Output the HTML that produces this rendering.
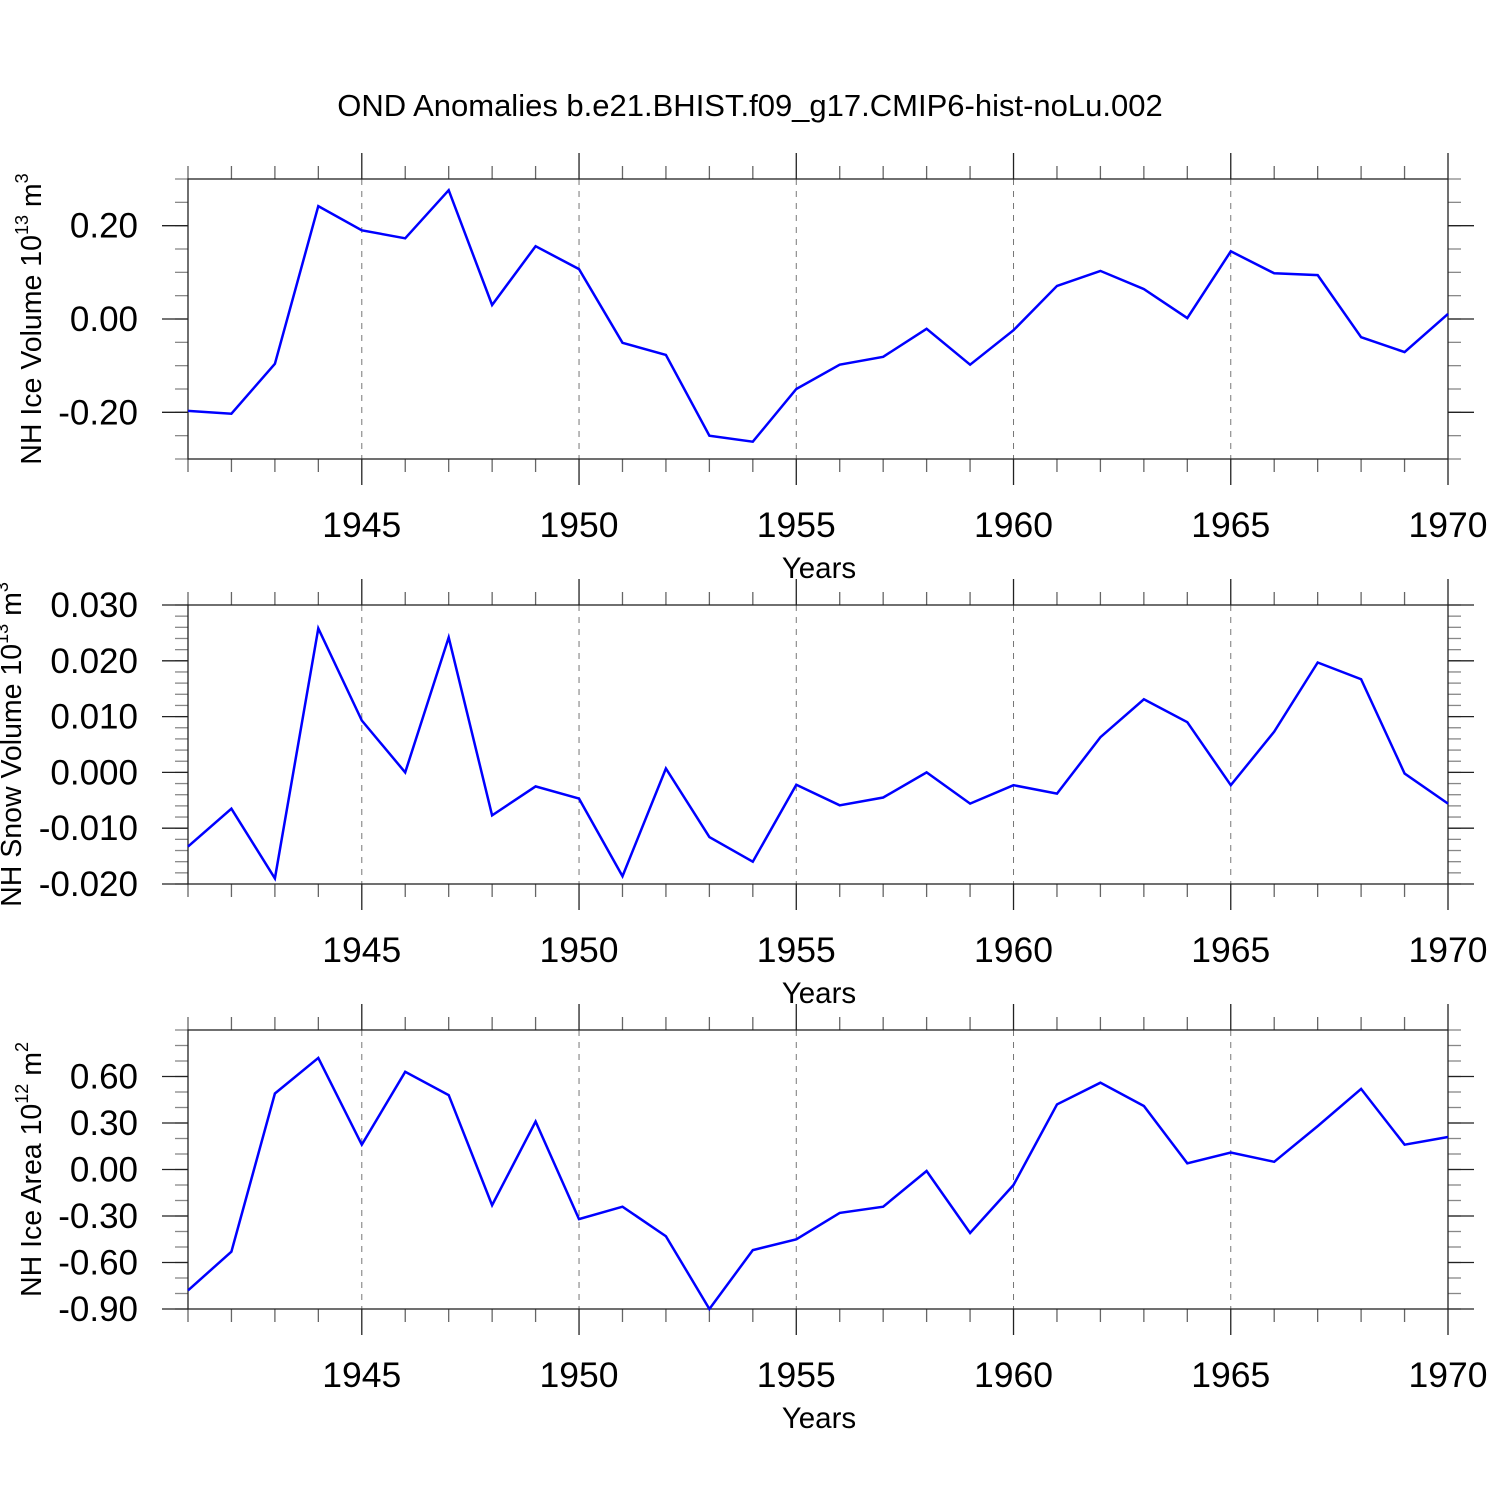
<!DOCTYPE html>
<html><head><meta charset="utf-8"><style>
html,body{margin:0;padding:0;background:#fff}
svg{display:block;font-family:"Liberation Sans",Arial,sans-serif}
</style></head><body>
<svg id="c" width="1500" height="1500" viewBox="0 0 1500 1500">
<text x="750" y="116" text-anchor="middle" font-size="31">OND Anomalies b.e21.BHIST.f09_g17.CMIP6-hist-noLu.002</text>
</svg>
<script>
const years = [1941,1942,1943,1944,1945,1946,1947,1948,1949,1950,1951,1952,1953,1954,1955,1956,1957,1958,1959,1960,1961,1962,1963,1964,1965,1966,1967,1968,1969,1970];
const iceVolume = [-0.197,-0.203,-0.096,0.242,0.19,0.173,0.276,0.03,0.156,0.107,-0.051,-0.077,-0.25,-0.263,-0.15,-0.098,-0.081,-0.021,-0.098,-0.024,0.071,0.103,0.064,0.002,0.145,0.098,0.094,-0.039,-0.071,0.011];
const snowVolume = [-0.0133,-0.0065,-0.019,0.0258,0.0093,0.0,0.0242,-0.0077,-0.0025,-0.0047,-0.0186,0.0007,-0.0116,-0.016,-0.0022,-0.0059,-0.0045,0.0,-0.0056,-0.0023,-0.0038,0.0063,0.0131,0.009,-0.0023,0.0073,0.0197,0.0167,-0.0002,-0.0056];
const iceArea = [-0.78,-0.53,0.49,0.72,0.16,0.63,0.48,-0.23,0.31,-0.32,-0.24,-0.43,-0.9,-0.52,-0.45,-0.28,-0.24,-0.01,-0.41,-0.10,0.42,0.56,0.41,0.04,0.11,0.05,0.28,0.52,0.16,0.21];
const xMajorTicks = [1945,1950,1955,1960,1965,1970];
const iceVolTicks = [-0.2,0,0.2];
const iceVolLabels = ["-0.20","0.00","0.20"];
const snowTicks = [-0.02,-0.01,0,0.01,0.02,0.03];
const snowLabels = ["-0.020","-0.010","0.000","0.010","0.020","0.030"];
const areaTicks = [-0.9,-0.6,-0.3,0,0.3,0.6];
const areaLabels = ["-0.90","-0.60","-0.30","0.00","0.30","0.60"];

const svg = document.getElementById('c');
const NS = 'http://www.w3.org/2000/svg';
function mk(tag, attrs, parent){const e=document.createElementNS(NS,tag);for(const k in attrs)e.setAttribute(k,attrs[k]);(parent||svg).appendChild(e);return e;}
const X0=188,X1=1448;
const xs = y => X0 + (y-1941)/(1970-1941)*(X1-X0);

const panels = [
 {top:179,bot:459,min:-0.3,max:0.3,minor:0.05,data:iceVolume,ticks:iceVolTicks,labels:iceVolLabels,name:'ice-volume',title:'NH Ice Volume 10',exp:'13',unit:'3',tx:41},
 {top:605,bot:884,min:-0.02,max:0.03,minor:0.002,data:snowVolume,ticks:snowTicks,labels:snowLabels,name:'snow-volume',title:'NH Snow Volume 10',exp:'13',unit:'3',tx:21},
 {top:1030,bot:1309,min:-0.9,max:0.9,minor:0.1,data:iceArea,ticks:areaTicks,labels:areaLabels,name:'ice-area',title:'NH Ice Area 10',exp:'12',unit:'2',tx:41}
];

panels.forEach(p=>{
  const g = mk('g',{});
  
  
  const ys = v => p.bot - (v-p.min)/(p.max-p.min)*(p.bot-p.top);
  xMajorTicks.forEach(yr=>{
    if(yr<1970){const l=mk('line',{x1:xs(yr),x2:xs(yr),y1:p.top,y2:p.bot,stroke:'#777','stroke-width':1,'stroke-dasharray':'6,6'},g);
    
    }
  });
  years.forEach(yr=>{
    const maj = xMajorTicks.includes(yr);
    const L = maj?26:13;
    mk('line',{x1:xs(yr),x2:xs(yr),y1:p.top-L,y2:p.top,stroke:maj?'#222':'#666','stroke-width':1.3},g);
    mk('line',{x1:xs(yr),x2:xs(yr),y1:p.bot,y2:p.bot+L,stroke:maj?'#222':'#666','stroke-width':1.3},g);
  });
  const n = Math.round((p.max-p.min)/p.minor);
  for(let i=0;i<=n;i++){
    const v=p.min+i*p.minor, y=ys(v);
    mk('line',{x1:X0-13,x2:X0,y1:y,y2:y,stroke:'#888','stroke-width':1.3},g);
    mk('line',{x1:X1,x2:X1+13,y1:y,y2:y,stroke:'#888','stroke-width':1.3},g);
  }
  p.ticks.forEach((v,i)=>{
    const y=ys(v);
    mk('line',{x1:X0-26,x2:X0,y1:y,y2:y,stroke:'#222','stroke-width':1.3},g);
    mk('line',{x1:X1,x2:X1+26,y1:y,y2:y,stroke:'#222','stroke-width':1.3},g);
    const t=mk('text',{x:138,y:y+12,'text-anchor':'end','font-size':35},g);
    t.textContent=p.labels[i];
    
    
  });
  const fr=mk('rect',{x:X0,y:p.top,width:X1-X0,height:p.bot-p.top,fill:'none',stroke:'#222','stroke-width':1.3},g);
  
  
  xMajorTicks.forEach(yr=>{
    const t=mk('text',{x:xs(yr),y:p.bot+78,'text-anchor':'middle','font-size':35.5},g);
    t.textContent=yr;
    
    
  });
  const xt=mk('text',{x:819,y:p.bot+119,'text-anchor':'middle','font-size':29.5},g);
  xt.textContent='Years';
  
  
  const cy=(p.top+p.bot)/2;
  const yt=mk('text',{x:0,y:0,'text-anchor':'middle','font-size':28.5,transform:`translate(${p.tx},${cy}) rotate(-90)`},g);
  yt.innerHTML=p.title+'<tspan dy="-13" font-size="18">'+p.exp+'</tspan><tspan dy="13"> m</tspan><tspan dy="-13" font-size="18">'+p.unit+'</tspan>';
  
  
  const pts=p.data.map((v,i)=>xs(years[i]).toFixed(1)+','+ys(v).toFixed(1)).join(' ');
  const line=mk('polyline',{points:pts,fill:'none',stroke:'#0000ff','stroke-width':2.5,'stroke-linejoin':'miter'},g);
  
  
});
</script>
</body></html>
